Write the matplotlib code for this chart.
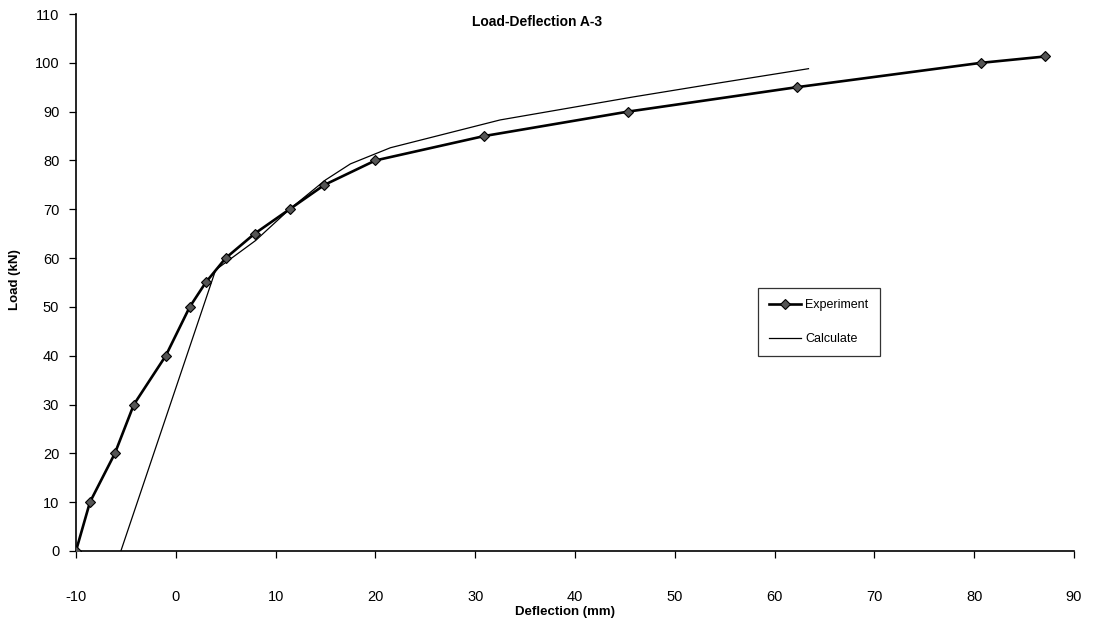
import numpy as np
import matplotlib.pyplot as plt

plt.rcParams['font.family'] = ['Liberation Sans', 'DejaVu Sans']
plt.rcParams['axes.unicode_minus'] = False

# measured load-deflection curve
exp_defl = [-10.0, -8.6, -6.1, -4.2, -1.0, 1.4, 3.0, 5.0, 7.9, 11.4, 14.9,
            20.0, 30.9, 45.3, 62.2, 80.7, 87.1]
exp_load = [0, 10, 20, 30, 40, 50, 55, 60, 65, 70, 75,
            80, 85, 90, 95, 100, 101.3]

# calculated curve
calc_defl = [-5.5, 4.0, 8.0, 11.4, 15.0, 17.5, 21.5, 32.5, 45.8, 54.5, 63.4]
calc_load = [0, 57.6, 63.6, 70.0, 76.0, 79.3, 82.6, 88.3, 93.0, 95.9, 98.8]

xticks = np.arange(-10, 91, 10)
yticks = np.arange(0, 111, 10)

fig = plt.figure(figsize=(10.93, 6.31), dpi=100)
ax = fig.add_axes([0.0695, 0.1268, 0.9131, 0.851])

ax.plot(exp_defl, exp_load, color='black', linewidth=1.9, marker='D',
        markersize=5, markerfacecolor='#555555', markeredgecolor='black',
        markeredgewidth=0.8, label='Experiment', zorder=3)
ax.plot(calc_defl, calc_load, color='black', linewidth=0.9,
        label='Calculate', zorder=2)

ax.set_xlim(-10, 90)
ax.set_ylim(0, 110)
ax.set_xticks(xticks)
ax.set_yticks(yticks)

for side in ['top', 'right']:
    ax.spines[side].set_visible(False)
for side in ['left', 'bottom']:
    ax.spines[side].set_linewidth(1.2)
    ax.spines[side].set_color('black')

ax.tick_params(axis='y', direction='out', length=5, width=0.9, pad=7,
               labelsize=10.5)
ax.tick_params(axis='x', direction='out', length=5, width=0.9, pad=23,
               labelsize=10.5)

fig.text(537 / 1093, 1 - 22 / 631, 'Load-Deflection A-3', ha='center',
         va='center', fontsize=10, fontweight='bold')
fig.text(565 / 1093, 1 - 612 / 631, 'Deflection (mm)', ha='center',
         va='center', fontsize=9.5, fontweight='bold')
fig.text(15 / 1093, 1 - 280 / 631, 'Load (kN)', ha='center', va='center',
         rotation=90, fontsize=9.5, fontweight='bold')

leg = ax.legend(loc='upper left', bbox_to_anchor=(0.683, 0.49),
                frameon=True, fancybox=False, edgecolor='black',
                fontsize=9, labelspacing=1.75, handlelength=2.6,
                handletextpad=0.3, borderpad=0.9, borderaxespad=0)
leg.get_frame().set_linewidth(0.9)

fig.savefig('out.png', dpi=100)
